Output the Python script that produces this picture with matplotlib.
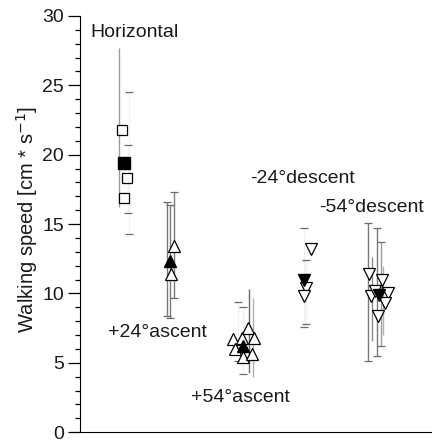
import numpy as np
import matplotlib
matplotlib.use("Agg")
import matplotlib.pyplot as plt
from matplotlib.ticker import MultipleLocator

plt.rcParams['font.family'] = ['Liberation Sans', 'DejaVu Sans']

# ---- data (x = lateral position inside the panel) ----
# group means (filled markers)
mean_x = [1.25, 2.56, 4.64, 6.36, 8.50]
mean_y = [19.4, 12.3, 6.2, 11.0, 9.9]
mean_mk = ['s', '^', '^', 'v', 'v']

# individual animals (open markers)
hor_x = [1.19, 1.34, 1.25]
hor_y = [21.8, 18.3, 16.9]
a24_x = [2.68, 2.60]
a24_y = [13.4, 11.4]
a54_x = [4.36, 4.59, 4.78, 4.94, 4.40, 4.64, 4.88]
a54_y = [6.7, 6.8, 7.5, 6.8, 6.0, 5.4, 5.6]
d24_x = [6.55, 6.42, 6.36]
d24_y = [13.2, 10.4, 9.8]
d54_x = [8.22, 8.57, 8.28, 8.38, 8.76, 8.66, 8.48]
d54_y = [11.4, 11.0, 9.8, 10.2, 10.05, 9.3, 8.4]

# error bars: position, lower end, upper end, line colour, caps drawn
bar_x = [1.12, 1.40, 1.36, 2.48, 2.56, 2.67, 4.81, 4.92, 4.50, 4.62,
         6.36, 6.42, 8.18, 8.30, 8.45, 8.55, 8.62]
bar_lo = [16.2, 14.3, 15.8, 8.4, 8.2, 9.7, 4.3, 4.0, 5.1, 4.2,
          7.6, 7.8, 5.1, 6.6, 5.5, 6.2, 7.0]
bar_hi = [27.7, 24.5, 20.7, 16.6, 16.4, 17.3, 10.3, 9.7, 9.35, 9.0,
          14.7, 12.4, 15.1, 12.6, 14.7, 13.7, 12.0]
bar_col = ['#9a9a9a', '#f0f0f0', '#f0f0f0', '#7a7a7a', '#7a7a7a', '#7a7a7a',
           '#6a6a6a', '#b0b0b0', '#f0f0f0', '#f0f0f0', '#f0f0f0', '#f0f0f0',
           '#7a7a7a', '#8a8a8a', '#7a7a7a', '#9a9a9a', '#b0b0b0']
bar_cap = [False, True, True, True, True, True, False, False, True, True,
           True, True, True, False, True, True, False]

labels = ['Horizontal', '+24°ascent', '+54°ascent', '-24°descent', '-54°descent']
label_x = [0.30, 0.80, 4.55, 6.33, 6.80]
label_y = [28.8, 7.2, 2.5, 18.3, 16.2]
label_ha = ['left', 'left', 'center', 'center', 'left']

fig = plt.figure(figsize=(4.32, 4.41), dpi=100)
ax = fig.add_axes([0.185, 0.02, 0.815, 0.944])

# error bars
ax.vlines(bar_x, bar_lo, bar_hi, colors=bar_col, linewidth=1.0, zorder=1)
for bx, lo, hi, cap in zip(bar_x, bar_lo, bar_hi, bar_cap):
    if cap:
        ax.plot([bx, bx], [lo, hi], linestyle='none', marker='_',
                markersize=5.5, markeredgewidth=0.9, color='#6a6a6a', zorder=1)

# open markers
open_kw = dict(linestyle='none', markerfacecolor='white',
               markeredgecolor='black', markeredgewidth=0.9, zorder=2)
ax.plot(hor_x, hor_y, marker='s', markersize=7, **open_kw)
ax.plot(a24_x, a24_y, marker='^', markersize=8, **open_kw)
ax.plot(a54_x, a54_y, marker='^', markersize=8, **open_kw)
ax.plot(d24_x, d24_y, marker='v', markersize=8, **open_kw)
ax.plot(d54_x, d54_y, marker='v', markersize=8, **open_kw)

# filled means
for mx, my, mk in zip(mean_x, mean_y, mean_mk):
    ax.plot(mx, my, marker=mk, markersize=8.5 if mk != 's' else 8,
            color='black', linestyle='none', zorder=3)

for t, tx, ty, ha in zip(labels, label_x, label_y, label_ha):
    ax.text(tx, ty, t, fontsize=14, ha=ha, va='center', color='#1a1a1a')

ax.set_xlim(0, 10)
ax.set_ylim(0, 30)
ax.spines['top'].set_visible(False)
ax.spines['right'].set_visible(False)
ax.set_xticks([])
ax.yaxis.set_major_locator(MultipleLocator(5))
ax.yaxis.set_minor_locator(MultipleLocator(1))
ax.tick_params(axis='y', which='major', length=8.5, width=0.9, labelsize=14,
               pad=3, labelcolor='#1a1a1a')
ax.tick_params(axis='y', which='minor', length=3.5, width=0.9)
ax.set_ylabel('Walking speed [cm * s$^{-1}$]', fontsize=14.5, color='#1a1a1a')
ax.yaxis.set_label_coords(-0.112, 0.51)

fig.savefig('out.png', dpi=100)
